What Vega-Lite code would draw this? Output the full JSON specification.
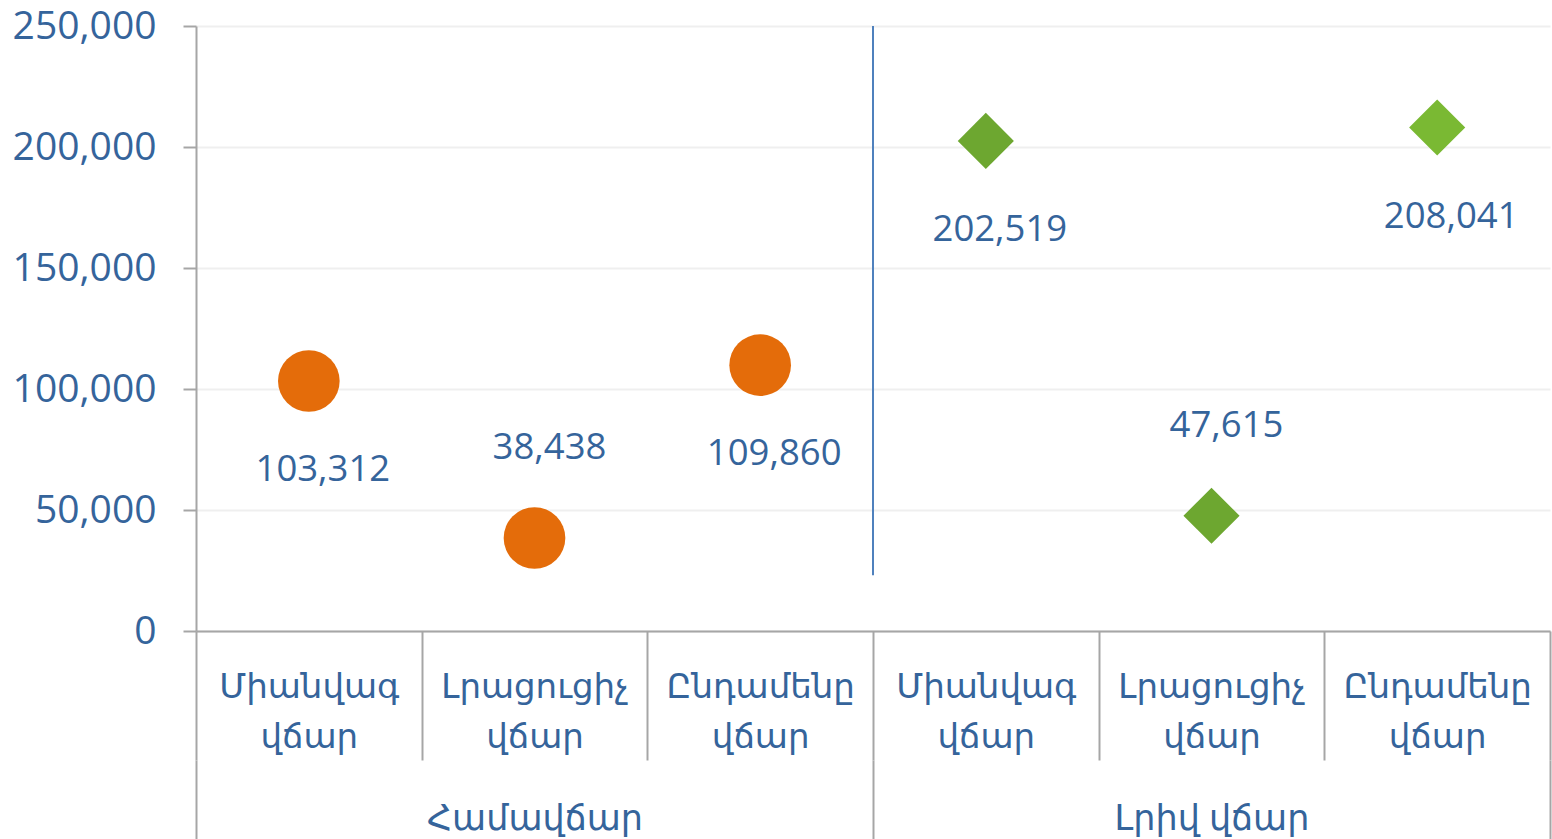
{
  "$schema": "https://vega.github.io/schema/vega-lite/v6.json",
  "width": 1354,
  "height": 605,
  "autosize": {"type": "none"},
  "padding": {"left": 196, "top": 26, "right": 2, "bottom": 208},
  "background": "#ffffff",
  "config": {
    "view": {"stroke": null},
    "font": "Open Sans, DejaVu Sans",
    "axis": {"labelFont": "Open Sans, DejaVu Sans", "labelColor": "#35649B", "labelLimit": 0}
  },
  "datasets": {
    "points": [
      {"key": "Համավճար|Միանվագ վճար", "group": "Համավճար", "sub": "Միանվագ վճար", "value": 103312},
      {"key": "Համավճար|Լրացուցիչ վճար", "group": "Համավճար", "sub": "Լրացուցիչ վճար", "value": 38438},
      {"key": "Համավճար|Ընդամենը վճար", "group": "Համավճար", "sub": "Ընդամենը վճար", "value": 109860},
      {"key": "Լրիվ վճար|Միանվագ վճար", "group": "Լրիվ վճար", "sub": "Միանվագ վճար", "value": 202519},
      {"key": "Լրիվ վճար|Լրացուցիչ վճար", "group": "Լրիվ վճար", "sub": "Լրացուցիչ վճար", "value": 47615},
      {"key": "Լրիվ վճար|Ընդամենը վճար", "group": "Լրիվ վճար", "sub": "Ընդամենը վճար", "value": 208041}
    ],
    "separator": [
      {"key": "Լրիվ վճար|Միանվագ վճար", "lo": 23000, "hi": 250000}
    ],
    "groups": [
      {"group": "Համավճար"},
      {"group": "Լրիվ վճար"}
    ]
  },
  "layer": [
    {
      "layer": [
        {
          "data": {"name": "points"},
          "mark": {"type": "point", "filled": true, "opacity": 1, "strokeWidth": 0},
          "encoding": {
            "x": {
              "field": "key", "type": "nominal",
              "sort": null,
              "scale": {"type": "band", "paddingInner": 0, "paddingOuter": 0,
                "domain": ["Համավճար|Միանվագ վճար", "Համավճար|Լրացուցիչ վճար", "Համավճար|Ընդամենը վճար", "Լրիվ վճար|Միանվագ վճար", "Լրիվ վճար|Լրացուցիչ վճար", "Լրիվ վճար|Ընդամենը վճար"]},
              "axis": {
                "title": null,
                "orient": "bottom",
                "labelAngle": 0,
                "labelExpr": "indexof(datum.label, '|') >= 0 ? split(split(datum.label, '|')[1], ' ') : ''",
                "labelFontSize": 34,
                "labelLineHeight": 50,
                "labelPadding": -90,
                "labelBaseline": "top",
                "tickBand": "extent",
                "tickSize": 129,
                "tickColor": "#A6A6A6",
                "tickWidth": 2,
                "domainColor": "#A6A6A6",
                "domainWidth": 2,
                "grid": false,
                "zindex": 1
              }
            },
            "y": {
              "field": "value", "type": "quantitative",
              "scale": {"domain": [0, 250000], "nice": false, "zero": true},
              "axis": {
                "title": null,
                "values": [0, 50000, 100000, 150000, 200000, 250000],
                "format": ",d",
                "labelFontSize": 39,
                "labelPadding": 27,
                "tickSize": 13,
                "tickColor": "#A6A6A6",
                "tickWidth": 2,
                "domainColor": "#A6A6A6",
                "domainWidth": 2,
                "grid": true,
                "gridColor": "#EFEFEF",
                "gridWidth": 2
              }
            },
            "shape": {
              "condition": {"test": "datum.group === 'Համավճար'", "value": "circle"},
              "value": "diamond"
            },
            "size": {
              "condition": {"test": "datum.group === 'Համավճար'", "value": 3800},
              "value": 3150
            },
            "color": {
              "condition": [
                {"test": "datum.group === 'Համավճար'", "value": "#E46C0A"},
                {"test": "datum.sub === 'Ընդամենը վճար'", "value": "#7AB933"}
              ],
              "value": "#6DA730"
            }
          }
        },
        {
          "data": {"name": "separator"},
          "mark": {"type": "rule", "color": "#4F81BD", "strokeWidth": 2},
          "encoding": {
            "x": {"field": "key", "type": "nominal", "sort": null, "bandPosition": 0},
            "y": {"field": "lo", "type": "quantitative"},
            "y2": {"field": "hi"}
          }
        },
        {
          "data": {"name": "points"},
          "transform": [{"filter": "datum.value >= 60000"}],
          "mark": {"type": "text", "fontSize": 36.5, "color": "#35649B", "baseline": "middle", "align": "center", "dx": 14, "dy": 89, "font": "Open Sans, DejaVu Sans"},
          "encoding": {
            "x": {"field": "key", "type": "nominal", "sort": null},
            "y": {"field": "value", "type": "quantitative"},
            "text": {"field": "value", "type": "quantitative", "format": ",d"}
          }
        },
        {
          "data": {"name": "points"},
          "transform": [{"filter": "datum.value < 60000"}],
          "mark": {"type": "text", "fontSize": 36.5, "color": "#35649B", "baseline": "middle", "align": "center", "dx": 15, "dy": -90, "font": "Open Sans, DejaVu Sans"},
          "encoding": {
            "x": {"field": "key", "type": "nominal", "sort": null},
            "y": {"field": "value", "type": "quantitative"},
            "text": {"field": "value", "type": "quantitative", "format": ",d"}
          }
        }
      ]
    },
    {
      "data": {"name": "groups"},
      "mark": {"type": "point", "opacity": 0},
      "encoding": {
        "x": {
          "field": "group", "type": "nominal",
          "sort": null,
          "scale": {"type": "band", "paddingInner": 0, "paddingOuter": 0, "domain": ["Համավճար", "Լրիվ վճար"]},
          "axis": {
            "title": null,
            "orient": "bottom",
            "offset": 129,
            "domain": false,
            "labelAngle": 0,
            "labelFontSize": 35,
            "labelPadding": -38,
            "labelBaseline": "top",
            "tickBand": "extent",
            "tickSize": 79,
            "tickColor": "#A6A6A6",
            "tickWidth": 2,
            "grid": false
          }
        }
      }
    }
  ],
  "resolve": {"scale": {"x": "independent"}, "axis": {"x": "independent"}}
}
